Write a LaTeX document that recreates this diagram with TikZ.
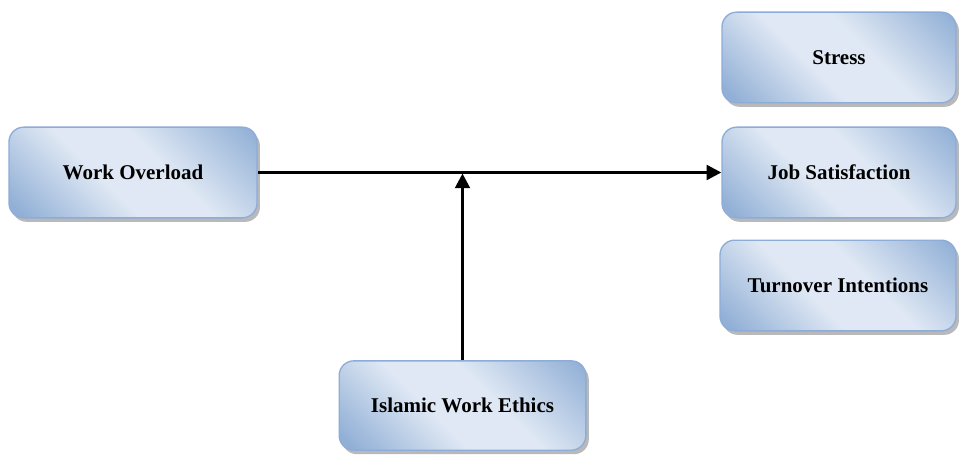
\documentclass[tikz,border=0pt]{standalone}
\usepackage{fontspec}
\setmainfont{Liberation Serif}
\usetikzlibrary{arrows.meta,shadows}
\definecolor{boxdark}{RGB}{146,176,214}
\definecolor{boxlight}{RGB}{223,232,244}
\definecolor{boxedge}{RGB}{141,172,216}
\pgfdeclarehorizontalshading{factorshade}{100bp}{color(0bp)=(boxdark); color(18bp)=(boxdark); color(42bp)=(boxlight); color(58bp)=(boxlight); color(84bp)=(boxdark); color(100bp)=(boxdark)}
\begin{document}
\begin{tikzpicture}[x=0.75pt, y=-0.75pt,
    factor/.style={rectangle, draw=boxedge, line width=1pt, rounded corners=11pt,
      shading=factorshade, shading angle=45,
      drop shadow={shadow xshift=2.2pt, shadow yshift=-3pt, fill=gray!55, opacity=1},
      minimum height=68pt, font=\bfseries\fontsize{15.75}{19}\selectfont},
    link/.style={line width=2.2pt, -{Triangle[length=11pt, width=11pt]}}]
    \useasboundingbox (0,0) rectangle (959,456);
    \node [factor, minimum width=186pt] (wo) at (133,172.5) {Work Overload};
    \node [factor, minimum width=175.5pt] (stress) at (839,57.5) {Stress};
    \node [factor, minimum width=175.5pt] (js) at (839,172.5) {Job Satisfaction};
    \node [factor, minimum width=177pt] (ti) at (838,285.5) {Turnover Intentions};
    \node [factor, minimum width=185pt, minimum height=67pt] (iwe) at (462.5,405.5) {Islamic Work Ethics};
    \coordinate (join) at (462.5,173.5);
    \draw [link] (wo.east) -- (js.west);
    \draw [link] (iwe.north) -- (join);
\end{tikzpicture}
\end{document}
